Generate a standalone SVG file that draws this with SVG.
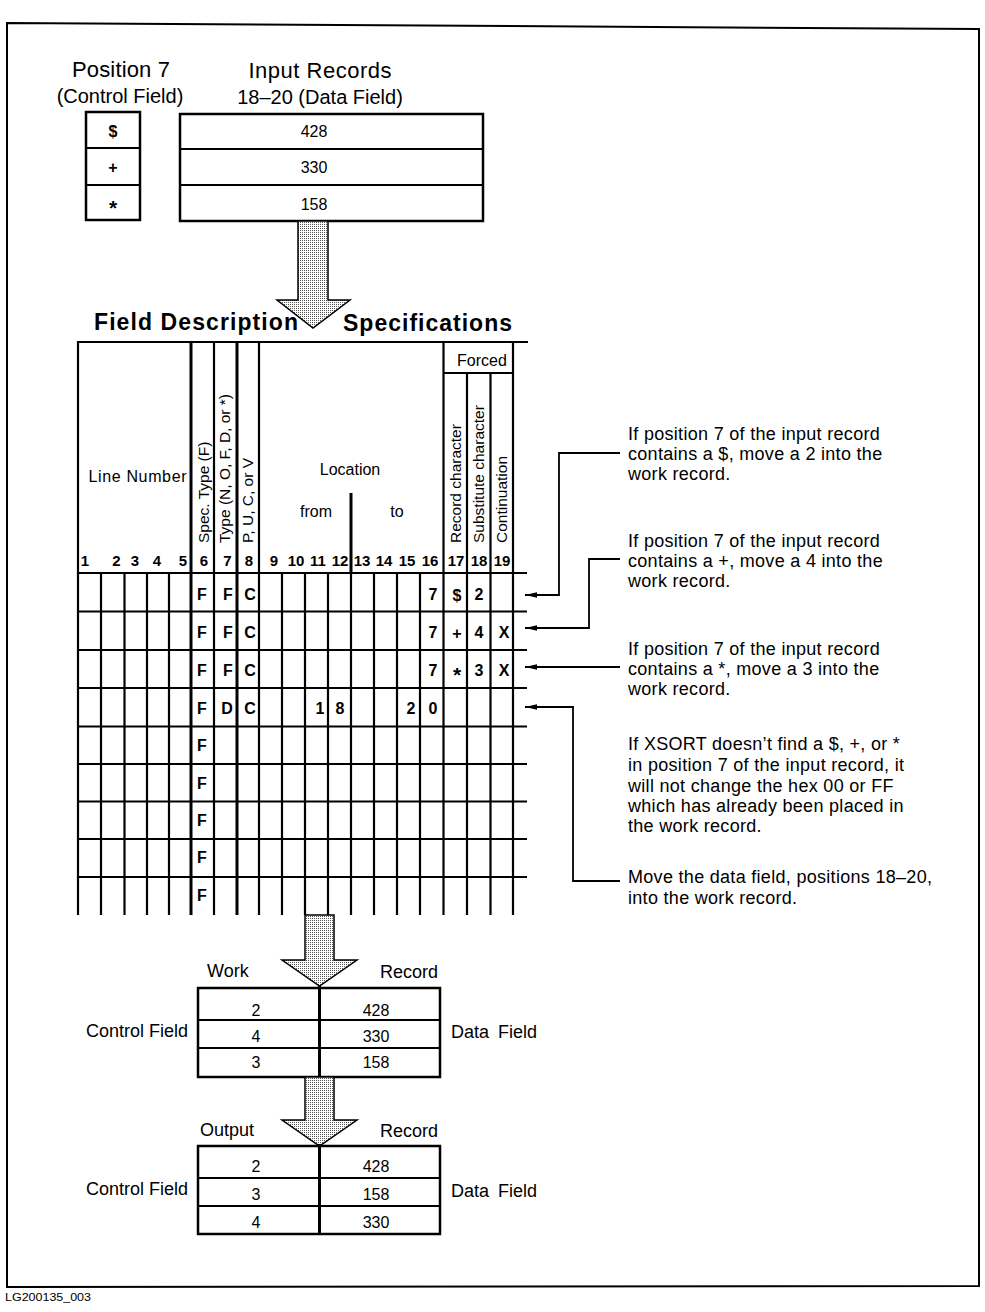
<svg xmlns="http://www.w3.org/2000/svg" width="985" height="1312" viewBox="0 0 985 1312">
<style>
text{font-family:"Liberation Sans",Arial,Helvetica,sans-serif;fill:#000}
.t22{font-size:22px}
.t20{font-size:20px}
.t18{font-size:18px}
.ann{font-size:18px;letter-spacing:0.3px}
.t16{font-size:16px}
.b16{font-size:16px;font-weight:bold}
.ast{font-size:21px;font-weight:bold}
.num{font-size:15px;font-weight:bold}
.vt{font-size:15.5px}
.title{font-size:23px;font-weight:bold}
.ln{stroke:#000;stroke-width:2.2;fill:none}
.thk{stroke:#000;stroke-width:3;fill:none}
.box{stroke:#000;stroke-width:2.5;fill:#fff}
.conn{stroke:#000;stroke-width:1.8;fill:none}
.big{stroke:#000;stroke-width:1.5;fill:url(#stip)}
</style>
<defs>
<pattern id="stip" width="2" height="2" patternUnits="userSpaceOnUse">
<rect width="2" height="2" fill="#fff"/>
<rect x="0" y="0" width="1" height="1" fill="#555"/>
</pattern>
<marker id="ah" markerWidth="13" markerHeight="8" refX="12" refY="4" orient="auto" markerUnits="userSpaceOnUse">
<path d="M0,1.2 L12,4 L0,6.8 Z" fill="#000"/>
</marker>
</defs>
<rect width="985" height="1312" fill="#fff"/>
<path id="frame" d="M7,23 L979,29 L979,1286 L7,1287 Z" fill="none" stroke="#000" stroke-width="2"/>

<g id="input-headings">
<text class="t22" x="121" y="77" text-anchor="middle" textLength="98">Position 7</text>
<text class="t20" x="120" y="103" text-anchor="middle">(Control Field)</text>
<text class="t22" x="320" y="78" text-anchor="middle" textLength="143">Input Records</text>
<text class="t20" x="320" y="104" text-anchor="middle">18–20 (Data Field)</text>
</g>

<g id="control-box">
<rect class="box" x="86" y="112" width="54" height="108"/>
<line class="ln" x1="86" y1="148" x2="140" y2="148"/>
<line class="ln" x1="86" y1="185" x2="140" y2="185"/>
<text class="b16" x="113" y="137" text-anchor="middle">$</text>
<text class="b16" x="113" y="173" text-anchor="middle">+</text>
<text class="ast" x="113" y="215" text-anchor="middle">*</text>
</g>

<g id="input-records">
<rect class="box" x="180" y="114" width="303" height="107"/>
<line class="ln" x1="180" y1="149" x2="483" y2="149"/>
<line class="ln" x1="180" y1="185" x2="483" y2="185"/>
<text class="t16" x="314" y="137" text-anchor="middle">428</text>
<text class="t16" x="314" y="173" text-anchor="middle">330</text>
<text class="t16" x="314" y="210" text-anchor="middle">158</text>
</g>

<g id="arrow-1">
<path class="big" d="M298,221 L328,221 L328,300 L350,300 L313,328 L277,300 L298,300 Z"/>
</g>

<g id="spec-title">
<text class="title" x="94" y="330" textLength="204">Field Description</text>
<text class="title" x="343" y="331" textLength="169">Specifications</text>
</g>

<g id="spec-form">
<line class="ln" x1="77" y1="342" x2="528" y2="342"/>
<line class="ln" x1="443.5" y1="373" x2="513" y2="373"/>
<g class="ln">
<line x1="77" y1="573" x2="527" y2="573"/>
<line x1="77" y1="611.5" x2="527" y2="611.5"/>
<line x1="77" y1="650" x2="527" y2="650"/>
<line x1="77" y1="688" x2="527" y2="688"/>
<line x1="77" y1="726.5" x2="527" y2="726.5"/>
<line x1="77" y1="764" x2="527" y2="764"/>
<line x1="77" y1="801.5" x2="527" y2="801.5"/>
<line x1="77" y1="839" x2="527" y2="839"/>
<line x1="77" y1="877" x2="527" y2="877"/>
</g>
<g class="ln">
<line x1="78" y1="341" x2="78" y2="915"/>
<line x1="214" y1="341" x2="214" y2="915"/>
<line x1="259" y1="341" x2="259" y2="915"/>
<line x1="443.5" y1="341" x2="443.5" y2="915"/>
<line x1="513" y1="341" x2="513" y2="915"/>
<line x1="467" y1="373" x2="467" y2="915"/>
<line x1="490.5" y1="373" x2="490.5" y2="915"/>
</g>
<line class="thk" x1="191" y1="341" x2="191" y2="915"/>
<line class="thk" x1="237" y1="341" x2="237" y2="915"/>
<line class="thk" x1="351" y1="493" x2="351" y2="573"/>
<g class="ln">
<line x1="101" y1="573" x2="101" y2="915"/>
<line x1="124.5" y1="573" x2="124.5" y2="915"/>
<line x1="147" y1="573" x2="147" y2="915"/>
<line x1="169" y1="573" x2="169" y2="915"/>
<line x1="282" y1="573" x2="282" y2="915"/>
<line x1="305" y1="573" x2="305" y2="915"/>
<line x1="328" y1="573" x2="328" y2="915"/>
<line x1="351" y1="573" x2="351" y2="915"/>
<line x1="374" y1="573" x2="374" y2="915"/>
<line x1="397" y1="573" x2="397" y2="915"/>
<line x1="420" y1="573" x2="420" y2="915"/>
</g>
<text class="t16" x="137.5" y="482" text-anchor="middle" textLength="98">Line Number</text>
<text class="t16" x="350" y="475" text-anchor="middle">Location</text>
<text class="t16" x="316" y="517" text-anchor="middle">from</text>
<text class="t16" x="397" y="517" text-anchor="middle">to</text>
<text class="t16" x="482" y="366" text-anchor="middle">Forced</text>
<text class="vt" transform="translate(208.5,543) rotate(-90)">Spec. Type (F)</text>
<text class="vt" transform="translate(230,543) rotate(-90)">Type (N, O, F, D, or *)</text>
<text class="vt" transform="translate(253,543) rotate(-90)">P, U, C, or V</text>
<text class="vt" transform="translate(461,543) rotate(-90)">Record character</text>
<text class="vt" transform="translate(484,543) rotate(-90)">Substitute character</text>
<text class="vt" transform="translate(507,543) rotate(-90)">Continuation</text>
<g class="num" text-anchor="middle">
<text x="85" y="566">1</text>
<text x="116.5" y="566">2</text>
<text x="135" y="566">3</text>
<text x="157" y="566">4</text>
<text x="183" y="566">5</text>
<text x="204" y="566">6</text>
<text x="227.5" y="566">7</text>
<text x="249" y="566">8</text>
<text x="274" y="566">9</text>
<text x="296" y="566">10</text>
<text x="318" y="566">11</text>
<text x="340" y="566">12</text>
<text x="362" y="566">13</text>
<text x="384" y="566">14</text>
<text x="407" y="566">15</text>
<text x="430" y="566">16</text>
<text x="456" y="566">17</text>
<text x="479" y="566">18</text>
<text x="502" y="566">19</text>
</g>
<g class="b16" text-anchor="middle">
<text x="202" y="600">F</text><text x="228" y="600">F</text><text x="250" y="600">C</text>
<text x="433" y="600">7</text><text x="457" y="601">$</text><text x="479" y="600">2</text>
<text x="202" y="638">F</text><text x="228" y="638">F</text><text x="250" y="638">C</text>
<text x="433" y="638">7</text><text x="457" y="639">+</text><text x="479" y="638">4</text><text x="504" y="638">X</text>
<text x="202" y="676">F</text><text x="228" y="676">F</text><text x="250" y="676">C</text>
<text x="433" y="676">7</text><text class="ast" x="457" y="682">*</text><text x="479" y="676">3</text><text x="504" y="676">X</text>
<text x="202" y="714">F</text><text x="227" y="714">D</text><text x="250" y="714">C</text>
<text x="320" y="714">1</text><text x="340" y="714">8</text><text x="411" y="714">2</text><text x="433" y="714">0</text>
<text x="202" y="751">F</text>
<text x="202" y="789">F</text>
<text x="202" y="826">F</text>
<text x="202" y="863">F</text>
<text x="202" y="901">F</text>
</g>
</g>

<g id="connectors">
<polyline class="conn" points="620,453 559,453 559,595 525,595" marker-end="url(#ah)"/>
<polyline class="conn" points="620,559 589,559 589,628 525,628" marker-end="url(#ah)"/>
<polyline class="conn" points="620,667 525,667" marker-end="url(#ah)"/>
<polyline class="conn" points="620,881 573,881 573,707 525,707" marker-end="url(#ah)"/>
</g>

<g id="note-1">
<text class="ann" x="628" y="440">If position 7 of the input record</text>
<text class="ann" x="628" y="460">contains a $, move a 2 into the</text>
<text class="ann" x="628" y="480">work record.</text>
</g>
<g id="note-2">
<text class="ann" x="628" y="547">If position 7 of the input record</text>
<text class="ann" x="628" y="567">contains a +, move a 4 into the</text>
<text class="ann" x="628" y="587">work record.</text>
</g>
<g id="note-3">
<text class="ann" x="628" y="655">If position 7 of the input record</text>
<text class="ann" x="628" y="675">contains a *, move a 3 into the</text>
<text class="ann" x="628" y="695">work record.</text>
</g>
<g id="note-4">
<text class="ann" x="628" y="750">If XSORT doesn’t find a $, +, or *</text>
<text class="ann" x="628" y="771">in position 7 of the input record, it</text>
<text class="ann" x="628" y="792">will not change the hex 00 or FF</text>
<text class="ann" x="628" y="812">which has already been placed in</text>
<text class="ann" x="628" y="832">the work record.</text>
</g>
<g id="note-5">
<text class="ann" x="628" y="883">Move the data field, positions 18–20,</text>
<text class="ann" x="628" y="904">into the work record.</text>
</g>

<g id="arrow-2">
<path class="big" d="M305,915 L334,915 L334,960 L357,960 L319.5,986 L282,960 L305,960 Z"/>
</g>

<g id="work-record">
<text class="t18" x="207" y="977">Work</text>
<text class="t18" x="438" y="978" text-anchor="end">Record</text>
<text class="t18" x="188" y="1037" text-anchor="end">Control Field</text>
<text class="t18" x="451" y="1038" word-spacing="4">Data Field</text>
<rect class="box" x="198" y="988" width="242" height="89" fill="none"/>
<line class="ln" x1="198" y1="1020" x2="440" y2="1020"/>
<line class="ln" x1="198" y1="1048" x2="440" y2="1048"/>
<line class="thk" x1="319.5" y1="986" x2="319.5" y2="1077"/>
<text class="t16" x="256" y="1016" text-anchor="middle">2</text>
<text class="t16" x="256" y="1042" text-anchor="middle">4</text>
<text class="t16" x="256" y="1068" text-anchor="middle">3</text>
<text class="t16" x="376" y="1016" text-anchor="middle">428</text>
<text class="t16" x="376" y="1042" text-anchor="middle">330</text>
<text class="t16" x="376" y="1068" text-anchor="middle">158</text>
</g>

<g id="arrow-3">
<path class="big" d="M305,1077 L334,1077 L334,1120 L357,1120 L319.5,1146 L282,1120 L305,1120 Z"/>
</g>

<g id="output-record">
<text class="t18" x="200" y="1136">Output</text>
<text class="t18" x="438" y="1137" text-anchor="end">Record</text>
<text class="t18" x="188" y="1195" text-anchor="end">Control Field</text>
<text class="t18" x="451" y="1197" word-spacing="4">Data Field</text>
<rect class="box" x="198" y="1146" width="242" height="88" fill="none"/>
<line class="ln" x1="198" y1="1178" x2="440" y2="1178"/>
<line class="ln" x1="198" y1="1206" x2="440" y2="1206"/>
<line class="thk" x1="319.5" y1="1144" x2="319.5" y2="1234"/>
<text class="t16" x="256" y="1172" text-anchor="middle">2</text>
<text class="t16" x="256" y="1200" text-anchor="middle">3</text>
<text class="t16" x="256" y="1228" text-anchor="middle">4</text>
<text class="t16" x="376" y="1172" text-anchor="middle">428</text>
<text class="t16" x="376" y="1200" text-anchor="middle">158</text>
<text class="t16" x="376" y="1228" text-anchor="middle">330</text>
</g>

<text x="5" y="1301" font-size="11" textLength="86" lengthAdjust="spacingAndGlyphs">LG200135_003</text>
</svg>
